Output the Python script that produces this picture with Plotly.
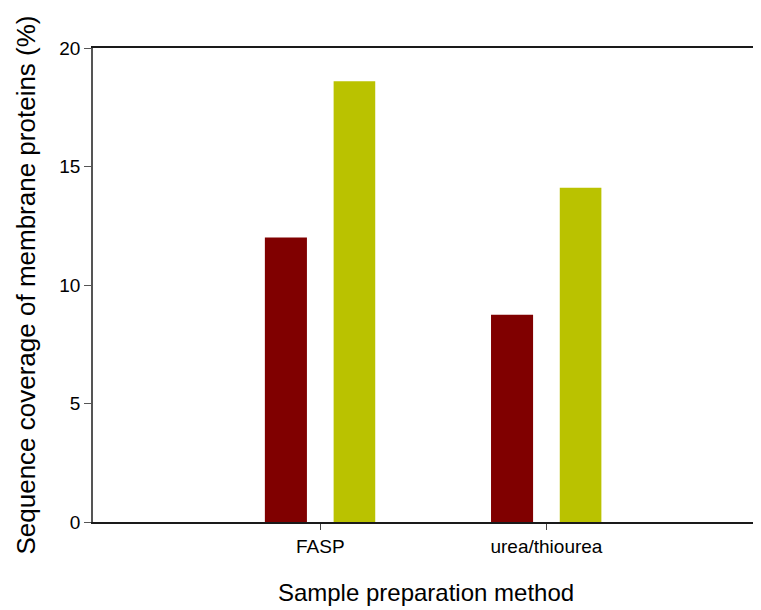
import plotly.graph_objects as go

categories = ["FASP", "urea/thiourea"]
series_a = [12.0, 8.75]
series_b = [18.6, 14.1]
y_ticks = [0, 5, 10, 15, 20]

fig = go.Figure()
fig.add_trace(go.Bar(x=categories, y=series_a, marker=dict(color="#800000", line=dict(width=0)),
                     offset=-0.245, width=0.186, showlegend=False))
fig.add_trace(go.Bar(x=categories, y=series_b, marker=dict(color="#bac200", line=dict(width=0)),
                     offset=0.059, width=0.184, showlegend=False))

font_family = "Liberation Sans, Arial, sans-serif"
fig.update_layout(
    width=761, height=610,
    margin=dict(l=85, r=10, t=40, b=96),
    plot_bgcolor="white", paper_bgcolor="white",
    font=dict(family=font_family, color="black"),
    xaxis=dict(
        type="category", range=[-1.005, 1.94],
        showline=True, linecolor="#1a1a1a", linewidth=2, mirror=True,
        ticks="outside", ticklen=6, tickcolor="#444", tickwidth=1,
        tickfont=dict(size=19), showgrid=False, zeroline=False,
        title=dict(text="Sample preparation method", font=dict(size=24), standoff=28),
    ),
    yaxis=dict(
        range=[0, 20], tickvals=y_ticks,
        showline=True, linecolor="#555", linewidth=1.5,
        ticks="outside", ticklen=7, tickcolor="#555", tickwidth=1,
        tickfont=dict(size=19), showgrid=False, zeroline=False,
        title=dict(text="Sequence coverage of membrane proteins (%)", font=dict(size=26), standoff=16),
    ),
)
fig.write_html("out.html")
